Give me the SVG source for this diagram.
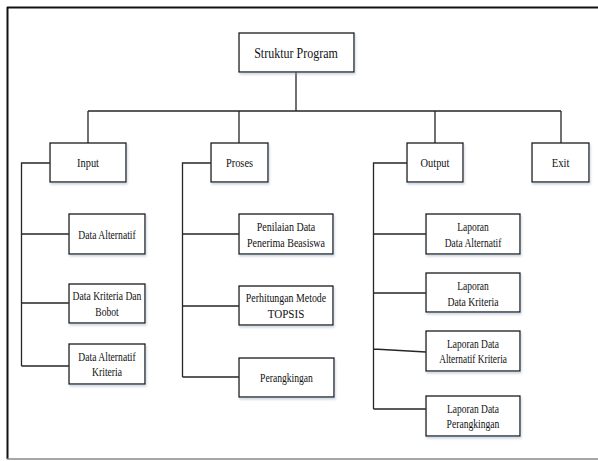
<svg xmlns="http://www.w3.org/2000/svg" width="598" height="461" viewBox="0 0 598 461">
  <style>
    .box { fill: #ffffff; stroke: #1a1a1a; stroke-width: 1.3; filter: url(#shadow); }
    .wire { fill: none; stroke: #262626; stroke-width: 1.3; }
    text { font-family: "Liberation Serif", "Times New Roman", serif; font-size: 13px; fill: #111; text-anchor: middle; }
    .title { font-size: 15px; }
  </style>
  <defs>
    <filter id="shadow" x="-10%" y="-10%" width="125%" height="140%">
      <feDropShadow dx="1" dy="2" stdDeviation="1.2" flood-color="#8fa6c0" flood-opacity="0.45"/>
    </filter>
  </defs>

  <!-- page frame (right edge runs off the sheet) -->
  <g id="frame">
    <line x1="7" y1="7.5" x2="598" y2="7.5" stroke="#111" stroke-width="2"/>
    <line x1="7.5" y1="7" x2="7.5" y2="459" stroke="#111" stroke-width="2"/>
    <line x1="7" y1="459" x2="598" y2="459" stroke="#8a8a8a" stroke-width="1.6"/>
  </g>

  <!-- connectors -->
  <g id="connectors" class="wire">
    <!-- root to first level -->
    <path d="M296 72 V111 M88 111 H561 M88 111 V143 M239 111 V143 M435 111 V143 M561 111 V143"/>
    <!-- Input branch -->
    <path d="M50 163 H21.5 V366 M21.5 234 H69 M21.5 303 H69 M21.5 366 H69"/>
    <!-- Proses branch -->
    <path d="M211 163 H182.5 V377 M182.5 234 H239 M182.5 306 H239 M182.5 377 H239"/>
    <!-- Output branch -->
    <path d="M407 163 H373.5 V409 M373.5 234 H426 M373.5 293 H426 M373.5 349 L426 352 M373.5 409 H426"/>
  </g>

  <!-- root -->
  <g id="struktur-program">
    <rect class="box" x="239" y="33" width="115" height="39"/>
    <text class="title" transform="translate(296 57.5) scale(0.8 1)">Struktur Program</text>
  </g>

  <!-- first level -->
  <g id="input">
    <rect class="box" x="50" y="143" width="76" height="39"/>
    <text transform="translate(88 167) scale(0.8 1)">Input</text>
  </g>
  <g id="proses">
    <rect class="box" x="211" y="143" width="57" height="39"/>
    <text transform="translate(239.5 167) scale(0.8 1)">Proses</text>
  </g>
  <g id="output">
    <rect class="box" x="407" y="143" width="56" height="39"/>
    <text transform="translate(435 167) scale(0.8 1)">Output</text>
  </g>
  <g id="exit">
    <rect class="box" x="532" y="143" width="57" height="39"/>
    <text transform="translate(560.5 167) scale(0.82 1)">Exit</text>
  </g>

  <!-- Input children -->
  <g id="data-alternatif">
    <rect class="box" x="69" y="214" width="76" height="40"/>
    <text transform="translate(107 238.5) scale(0.74 1)">Data Alternatif</text>
  </g>
  <g id="data-kriteria-bobot">
    <rect class="box" x="69" y="284" width="76" height="39"/>
    <text transform="translate(107 300) scale(0.74 1)">Data Kriteria Dan</text>
    <text transform="translate(107 316) scale(0.74 1)">Bobot</text>
  </g>
  <g id="data-alternatif-kriteria">
    <rect class="box" x="69" y="344" width="76" height="40"/>
    <text transform="translate(107 360.5) scale(0.74 1)">Data Alternatif</text>
    <text transform="translate(107 376) scale(0.74 1)">Kriteria</text>
  </g>

  <!-- Proses children -->
  <g id="penilaian-data">
    <rect class="box" x="239" y="214" width="94" height="40"/>
    <text transform="translate(286 231) scale(0.77 1)">Penilaian Data</text>
    <text transform="translate(286 246.5) scale(0.77 1)">Penerima Beasiswa</text>
  </g>
  <g id="perhitungan-topsis">
    <rect class="box" x="239" y="286" width="94" height="39"/>
    <text transform="translate(286 302) scale(0.76 1)">Perhitungan Metode</text>
    <text transform="translate(286 317.5) scale(0.85 1)">TOPSIS</text>
  </g>
  <g id="perangkingan">
    <rect class="box" x="239" y="358" width="95" height="39"/>
    <text transform="translate(286.5 382) scale(0.74 1)">Perangkingan</text>
  </g>

  <!-- Output children -->
  <g id="laporan-data-alternatif">
    <rect class="box" x="426" y="214" width="94" height="40"/>
    <text transform="translate(473 231) scale(0.73 1)">Laporan</text>
    <text transform="translate(473 246.5) scale(0.73 1)">Data Alternatif</text>
  </g>
  <g id="laporan-data-kriteria">
    <rect class="box" x="426" y="273" width="94" height="39"/>
    <text transform="translate(473 290) scale(0.73 1)">Laporan</text>
    <text transform="translate(473 305.5) scale(0.75 1)">Data Kriteria</text>
  </g>
  <g id="laporan-alternatif-kriteria">
    <rect class="box" x="426" y="331" width="94" height="40"/>
    <text transform="translate(473 347.5) scale(0.73 1)">Laporan Data</text>
    <text transform="translate(473 363) scale(0.72 1)">Alternatif Kriteria</text>
  </g>
  <g id="laporan-perangkingan">
    <rect class="box" x="426" y="396" width="94" height="40"/>
    <text transform="translate(473 412.5) scale(0.73 1)">Laporan Data</text>
    <text transform="translate(473 428) scale(0.74 1)">Perangkingan</text>
  </g>
</svg>
